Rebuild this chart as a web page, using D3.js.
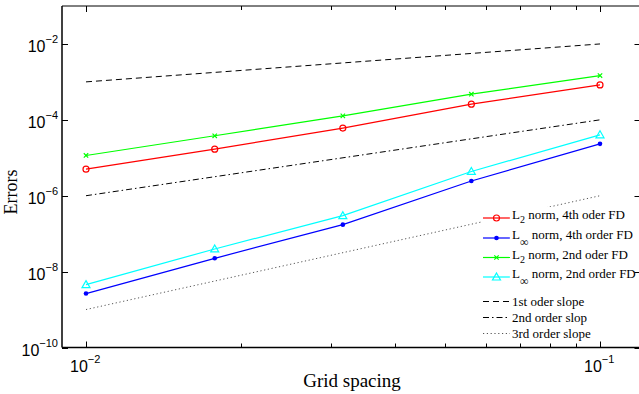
<!DOCTYPE html>
<html>
<head>
<meta charset="utf-8">
<script src="https://cdn.jsdelivr.net/npm/d3@7"></script>
<style>
  body { margin: 0; background: #fff; }
  svg { display: block; }
  .tick-label { font-family: "Liberation Sans", Arial, sans-serif; font-size: 16px; }
  .serif { font-family: "Liberation Serif", "Times New Roman", serif; }
</style>
</head>
<body>
<div id="chart"></div>
<script>
// grid spacings
const gridX = [0.01, 0.0178, 0.0316, 0.0562, 0.1];

// error series
const l2Fourth   = [5.0e-6, 1.69e-5, 6.05e-5, 2.59e-4, 8.3e-4];
const linfFourth = [2.64e-9, 2.24e-8, 1.73e-7, 2.44e-6, 2.33e-5];
const l2Second   = [1.15e-5, 3.8e-5, 1.27e-4, 4.74e-4, 1.47e-3];
const linfSecond = [4.55e-9, 3.95e-8, 2.98e-7, 4.36e-6, 4.03e-5];

// reference slopes
const slopeX = [0.01, 0.1];
const slope1 = [1e-3, 1e-2];
const slope2 = [1e-6, 1e-4];
const slope3 = [1e-9, 1e-6];

const xTicks = [0.01, 0.1];
const xMinor = [0.02, 0.03, 0.04, 0.05, 0.06, 0.07, 0.08, 0.09];
const yTicks = [-10, -8, -6, -4, -2];

const width = 639, height = 394;
const mLeft = 62, mRight = 640.5, mTop = 6, mBottom = 347.5;

// 0.01 -> 86px, 0.1 -> 600px
const x = d3.scaleLog().domain([0.01, 0.1]).range([86, 600]);
x.domain([x.invert(mLeft), x.invert(mRight)]).range([mLeft, mRight]);
const y = d3.scaleLog().domain([1e-10, 1e-1]).range([mBottom, mTop]);

const svg = d3.select("#chart").append("svg")
  .attr("width", width)
  .attr("height", height);

const line = d3.line()
  .x(d => x(d[0]))
  .y(d => y(d[1]));

// reference slope lines
const refs = [
  { v: slope1, dash: "6,4", color: "#000", w: 1 },
  { v: slope2, dash: "6,3,1.5,3", color: "#000", w: 1 },
  { v: slope3, dash: "1.2,2.6", color: "#555", w: 1 }
];
refs.forEach(r => {
  svg.append("path")
    .attr("d", line(d3.zip(slopeX, r.v)))
    .attr("fill", "none")
    .attr("stroke", r.color)
    .attr("stroke-width", r.w)
    .attr("stroke-dasharray", r.dash);
});

const series = [
  { v: l2Fourth,   color: "#ff0000", marker: "circle" },
  { v: linfFourth, color: "#0000ff", marker: "dot" },
  { v: l2Second,   color: "#00ff00", marker: "cross" },
  { v: linfSecond, color: "#00ffff", marker: "triangle" }
];

function drawMarker(g, kind, cx, cy, color) {
  if (kind === "circle") {
    g.append("circle").attr("cx", cx).attr("cy", cy).attr("r", 3)
      .attr("fill", "none").attr("stroke", color).attr("stroke-width", 1.2);
  } else if (kind === "dot") {
    g.append("circle").attr("cx", cx).attr("cy", cy).attr("r", 2.3)
      .attr("fill", color);
  } else if (kind === "cross") {
    g.append("path")
      .attr("d", `M${cx-2.2},${cy-2.2}L${cx+2.2},${cy+2.2}M${cx-2.2},${cy+2.2}L${cx+2.2},${cy-2.2}`)
      .attr("stroke", color).attr("stroke-width", 1.2);
  } else if (kind === "triangle") {
    g.append("path")
      .attr("d", `M${cx},${cy-4}L${cx+4},${cy+3}L${cx-4},${cy+3}Z`)
      .attr("fill", "none").attr("stroke", color).attr("stroke-width", 1.2);
  }
}

series.forEach(s => {
  const pts = d3.zip(gridX, s.v);
  svg.append("path")
    .attr("d", line(pts))
    .attr("fill", "none")
    .attr("stroke", s.color)
    .attr("stroke-width", 1.2);
  const g = svg.append("g");
  pts.forEach(p => drawMarker(g, s.marker, x(p[0]), y(p[1]), s.color));
});

// legend
const legendRows = [
  { kind: "series", s: 0, sub: "2", text: " norm, 4th oder FD", y: 218 },
  { kind: "series", s: 1, sub: "\u221e", text: " norm, 4th order FD", y: 238 },
  { kind: "series", s: 2, sub: "2", text: " norm, 2nd oder FD", y: 257.5 },
  { kind: "series", s: 3, sub: "\u221e", text: " norm, 2nd order FD", y: 277 },
  { kind: "ref", r: 0, text: "1st oder slope", y: 301.5 },
  { kind: "ref", r: 1, text: "2nd order slop", y: 317.5 },
  { kind: "ref", r: 2, text: "3rd order slope", y: 333.5 }
];

const lg = svg.append("g");
lg.append("rect")
  .attr("x", 481).attr("y", 207)
  .attr("width", 170).attr("height", 137)
  .attr("fill", "#fff");

legendRows.forEach(row => {
  const x0 = 483, x1 = 510;
  if (row.kind === "series") {
    const s = series[row.s];
    lg.append("line").attr("x1", x0).attr("x2", x1).attr("y1", row.y).attr("y2", row.y)
      .attr("stroke", s.color).attr("stroke-width", 1.2);
    drawMarker(lg, s.marker, (x0 + x1) / 2, row.y, s.color);
    const t = lg.append("text").attr("class", "serif")
      .attr("x", 512).attr("y", row.y + 1)
      .attr("font-size", 13);
    t.append("tspan").text("L");
    t.append("tspan").attr("font-size", row.sub === "2" ? 10 : 12)
      .attr("dy", row.sub === "2" ? 4 : 7).text(row.sub);
    t.append("tspan").attr("dy", row.sub === "2" ? -4 : -7).text(row.text);
  } else {
    const r = refs[row.r];
    lg.append("line").attr("x1", x0).attr("x2", x1).attr("y1", row.y).attr("y2", row.y)
      .attr("stroke", r.color).attr("stroke-width", r.w)
      .attr("stroke-dasharray", r.dash);
    lg.append("text").attr("class", "serif")
      .attr("x", 512).attr("y", row.y + 4.5)
      .attr("font-size", 13)
      .text(row.text);
  }
});

// axes box and ticks
const ax = svg.append("g").attr("stroke", "#000");
ax.append("line").attr("x1", mLeft).attr("x2", mLeft).attr("y1", mTop).attr("y2", mBottom).attr("stroke-width", 1.5);
ax.append("line").attr("x1", mLeft).attr("x2", mRight).attr("y1", mBottom).attr("y2", mBottom).attr("stroke-width", 1.5);
ax.append("line").attr("x1", mLeft).attr("x2", mRight).attr("y1", mTop).attr("y2", mTop).attr("stroke-width", 1);
ax.append("line").attr("x1", mRight).attr("x2", mRight).attr("y1", mTop).attr("y2", mBottom).attr("stroke-width", 1);

xTicks.concat(xMinor).forEach(v => {
  const len = xTicks.includes(v) ? 6 : 4;
  const px = Math.round(x(v)) + 0.5;
  ax.append("line").attr("x1", px).attr("x2", px).attr("y1", mBottom).attr("y2", mBottom - len);
  ax.append("line").attr("x1", px).attr("x2", px).attr("y1", mTop).attr("y2", mTop + len);
});
yTicks.forEach(e => {
  const py = Math.round(y(Math.pow(10, e))) + 0.5;
  ax.append("line").attr("x1", mLeft).attr("x2", mLeft + 6).attr("y1", py).attr("y2", py);
  ax.append("line").attr("x1", mRight).attr("x2", mRight - 6).attr("y1", py).attr("y2", py);
});

// tick labels
function powLabel(sel, exp) {
  sel.append("tspan").text("10");
  sel.append("tspan").attr("font-size", 11).attr("dy", -9).text("\u2212" + exp);
}
yTicks.forEach(e => {
  const t = svg.append("text").attr("class", "tick-label")
    .attr("x", 58).attr("y", y(Math.pow(10, e)) + 8)
    .attr("text-anchor", "end");
  powLabel(t, -e);
});
xTicks.forEach(v => {
  const e = Math.round(Math.log10(v));
  const t = svg.append("text").attr("class", "tick-label")
    .attr("x", x(v) - 16).attr("y", 372);
  powLabel(t, -e);
});

// axis titles
svg.append("text").attr("class", "serif")
  .attr("x", 352).attr("y", 387)
  .attr("text-anchor", "middle")
  .attr("font-size", 19)
  .text("Grid spacing");
svg.append("text").attr("class", "serif")
  .attr("transform", "translate(17,192) rotate(-90)")
  .attr("text-anchor", "middle")
  .attr("font-size", 18)
  .text("Errors");
</script>
</body>
</html>
